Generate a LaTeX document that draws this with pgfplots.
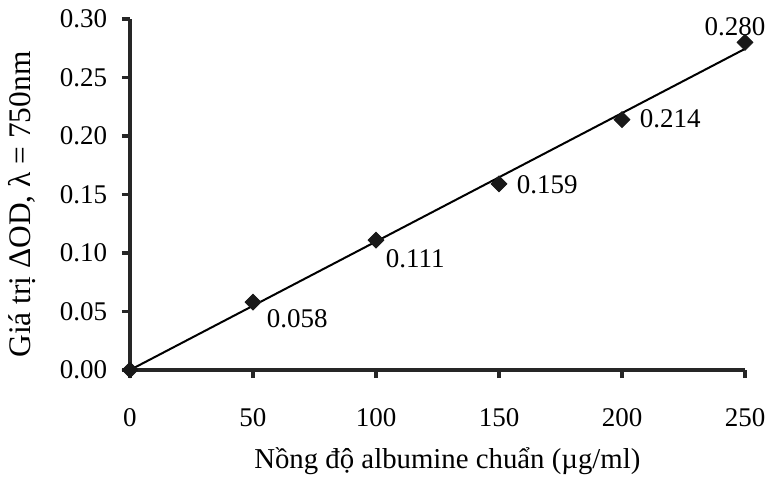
\documentclass[border=0pt]{standalone}
\usepackage{fontspec}
\setmainfont{Liberation Serif}
\usepackage{pgfplots}
\pgfplotsset{compat=1.18}
\begin{document}
\fontsize{13.5}{16}\selectfont
\begin{tikzpicture}
\begin{axis}[
  name=ax,
  at={(0,0)}, anchor=south west,
  scale only axis,
  width=307.5pt, height=175.5pt,
  xmin=0, xmax=250, ymin=0, ymax=0.30,
  axis x line*=bottom, axis y line*=left,
  every axis/.append style={line width=1.8pt},
  axis line style={-, line width=1.8pt, draw=black!85},
  every outer x axis line/.append style={line width=1.8pt},
  every outer y axis line/.append style={line width=1.8pt},
  every tick/.append style={line width=1.8pt, black!85},
  tick align=outside,
  major tick length=4pt,
  xtick={0,50,100,150,200,250},
  ytick={0,0.05,0.10,0.15,0.20,0.25,0.30},
  /pgf/number format/assume math mode=true,
  yticklabel style={/pgf/number format/fixed, /pgf/number format/fixed zerofill, /pgf/number format/precision=2, xshift=-2pt},
  xticklabel style={yshift=-10pt},
  scaled y ticks=false,
  xlabel={Nồng độ albumine chuẩn (µg/ml)},
  ylabel={Giá trị ΔOD, λ = 750nm},
  xlabel style={at={(axis description cs:0.516,-0.2595)}, anchor=center, font=\fontsize{14.4}{17}\selectfont},
  ylabel style={at={(axis description cs:-0.1756,0.4715)}, anchor=center, font=\fontsize{15.7}{18}\selectfont},
  clip=false,
  font=\fontsize{13.5}{16}\selectfont,
]
\addplot[black, line width=1pt] coordinates {(0,0) (250,0.2745)};
\addplot[only marks, mark=square*, mark size=2.8pt, mark options={rotate=45, fill=black!90, draw=black!90, line width=0.4pt}] coordinates {
(0,0) (50,0.058) (100,0.111) (150,0.159) (200,0.214) (250,0.280)};
\node[anchor=north west, inner sep=0pt] at (axis cs:50,0.058) [xshift=6pt, yshift=-3pt] {0.058};
\node[anchor=north west, inner sep=0pt] at (axis cs:100,0.111) [xshift=4pt, yshift=-4pt] {0.111};
\node[anchor=west, inner sep=0pt] at (axis cs:150,0.159) [xshift=8pt, yshift=-0.5pt] {0.159};
\node[anchor=west, inner sep=0pt] at (axis cs:200,0.214) [xshift=8pt, yshift=0.5pt] {0.214};
\node[anchor=south, inner sep=0pt] at (axis cs:250,0.280) [xshift=-5pt, yshift=2.5pt] {0.280};
\end{axis}
\pgfresetboundingbox
\path[use as bounding box] (-65pt,-53pt) rectangle (320pt,185pt);
\end{tikzpicture}
\end{document}
